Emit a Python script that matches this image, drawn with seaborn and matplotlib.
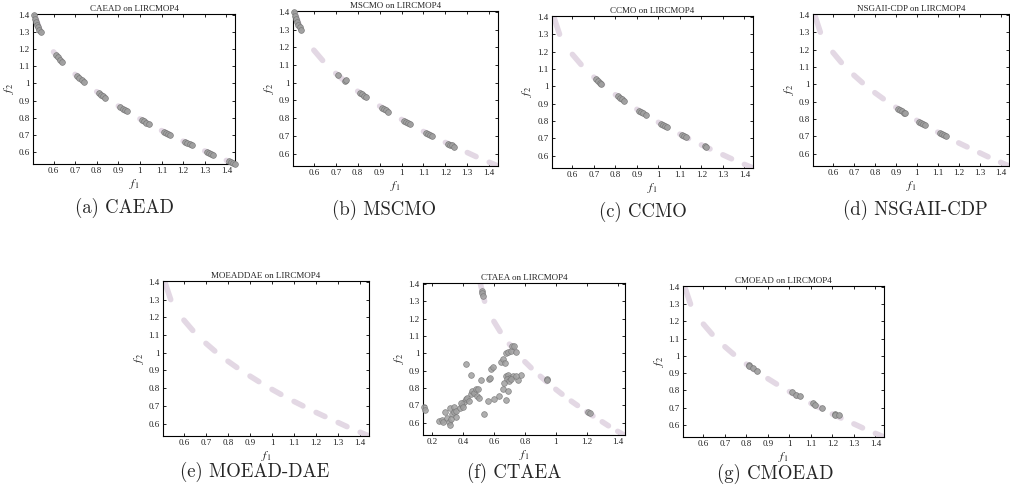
import matplotlib
matplotlib.use('Agg')
import numpy as np
import pandas as pd
import matplotlib.pyplot as plt
import seaborn as sns
from matplotlib.ticker import FormatStrFormatter, MultipleLocator

# true Pareto front of LIRCMOP4: ten short pieces (start / end of each piece)
pf_f1_start = [0.505, 0.60, 0.70, 0.80, 0.90, 1.00, 1.10, 1.20, 1.30, 1.40]
pf_f1_end = [0.54, 0.64, 0.74, 0.84, 0.94, 1.04, 1.14, 1.24, 1.34, 1.44]
pf_f2_start = [1.43, 1.184, 1.053, 0.952, 0.868, 0.793, 0.725, 0.663, 0.606, 0.551]
pf_f2_end = [1.30, 1.126, 1.010, 0.917, 0.837, 0.765, 0.700, 0.640, 0.583, 0.530]

# final populations
caead_f1 = [0.51, 0.515, 0.52, 0.525, 0.53, 0.535, 0.54,
            0.61, 0.62, 0.63, 0.64, 0.71, 0.72, 0.73, 0.74,
            0.81, 0.82, 0.83, 0.84, 0.91, 0.92, 0.93, 0.94,
            1.01, 1.02, 1.03, 1.04, 1.11, 1.12, 1.13, 1.14,
            1.21, 1.22, 1.23, 1.24, 1.31, 1.32, 1.33, 1.34,
            1.41, 1.42, 1.43, 1.44]
caead_f2 = [1.40, 1.378, 1.359, 1.342, 1.327, 1.313, 1.30,
            1.168, 1.154, 1.139, 1.126, 1.042, 1.031, 1.020, 1.010,
            0.943, 0.934, 0.926, 0.917, 0.860, 0.852, 0.844, 0.837,
            0.786, 0.779, 0.772, 0.765, 0.719, 0.713, 0.706, 0.700,
            0.657, 0.651, 0.646, 0.640, 0.600, 0.594, 0.589, 0.583,
            0.546, 0.541, 0.536, 0.530]

mscmo_f1 = [0.51, 0.515, 0.52, 0.525, 0.53, 0.535, 0.54,
            0.71, 0.74, 0.745,
            0.81, 0.82, 0.83, 0.84, 0.91, 0.92, 0.93, 0.94,
            1.01, 1.02, 1.03, 1.04, 1.11, 1.12, 1.13, 1.14,
            1.21, 1.22, 1.23, 1.24]
mscmo_f2 = [1.40, 1.378, 1.359, 1.342, 1.327, 1.313, 1.30,
            1.042, 1.012, 1.015,
            0.943, 0.934, 0.926, 0.917, 0.860, 0.852, 0.844, 0.837,
            0.786, 0.779, 0.772, 0.765, 0.719, 0.713, 0.706, 0.700,
            0.657, 0.651, 0.646, 0.640]

ccmo_f1 = [0.71, 0.72, 0.73, 0.735,
           0.81, 0.82, 0.83, 0.84, 0.91, 0.92, 0.93, 0.94,
           1.01, 1.02, 1.03, 1.04, 1.11, 1.12, 1.13, 1.215, 1.22]
ccmo_f2 = [1.042, 1.031, 1.020, 1.015,
           0.943, 0.934, 0.926, 0.917, 0.860, 0.852, 0.844, 0.837,
           0.786, 0.779, 0.772, 0.765, 0.719, 0.713, 0.706, 0.654, 0.651]

nsgaii_f1 = [0.91, 0.92, 0.93, 0.94, 0.945, 1.01, 1.02, 1.03, 1.04,
             1.11, 1.12, 1.13, 1.14]
nsgaii_f2 = [0.860, 0.852, 0.844, 0.837, 0.835, 0.786, 0.779, 0.772, 0.765,
             0.719, 0.713, 0.706, 0.700]

moeaddae_f1 = []
moeaddae_f2 = []

ctaea_f1 = [0.15, 0.156, 0.248, 0.265, 0.272, 0.282, 0.298, 0.308, 0.315,
            0.315, 0.341, 0.33, 0.341, 0.352, 0.324, 0.358, 0.38, 0.396,
            0.406, 0.417, 0.385, 0.402, 0.428, 0.439, 0.45, 0.461, 0.472,
            0.483, 0.497, 0.489, 0.504, 0.417, 0.45, 0.515, 0.533, 0.559,
            0.57, 0.573, 0.58, 0.595, 0.598, 0.63, 0.645, 0.656, 0.672,
            0.678, 0.693, 0.71, 0.717, 0.728, 0.743, 0.678, 0.693, 0.706,
            0.722, 0.685, 0.70, 0.71, 0.667, 0.656, 0.689, 0.678, 0.755,
            0.776, 0.743, 0.52, 0.525, 0.53, 0.94, 0.946, 1.21, 1.22]
ctaea_f2 = [0.694, 0.675, 0.611, 0.617, 0.602, 0.663, 0.625, 0.606, 0.587,
            0.688, 0.694, 0.65, 0.663, 0.631, 0.621, 0.669, 0.688, 0.70,
            0.72, 0.736, 0.713, 0.694, 0.745, 0.726, 0.764, 0.783, 0.774,
            0.793, 0.797, 0.755, 0.745, 0.936, 0.873, 0.846, 0.65, 0.726,
            0.85, 0.86, 0.911, 0.923, 0.74, 0.755, 0.952, 0.965, 0.946,
            1.003, 1.007, 1.012, 1.045, 1.041, 1.007, 0.869, 0.873, 0.86,
            0.869, 0.85, 0.84, 0.854, 0.831, 0.797, 0.783, 0.73, 0.846,
            0.873, 0.869, 1.36, 1.345, 1.33, 0.85, 0.845, 0.665, 0.655]

cmoead_f1 = [0.81, 0.812, 0.83, 0.85, 1.01, 1.03, 1.05, 1.11, 1.12, 1.15,
             1.21, 1.212, 1.23]
cmoead_f2 = [0.95, 0.94, 0.93, 0.915, 0.792, 0.775, 0.765, 0.725, 0.715,
             0.70, 0.665, 0.655, 0.655]

algos = ['CAEAD', 'MSCMO', 'CCMO', 'NSGAII-CDP', 'MOEADDAE', 'CTAEA', 'CMOEAD']
captions = ['(a) CAEAD', '(b) MSCMO', '(c) CCMO', '(d) NSGAII-CDP',
            '(e) MOEAD-DAE', '(f) CTAEA', '(g) CMOEAD']
pops = [(caead_f1, caead_f2), (mscmo_f1, mscmo_f2), (ccmo_f1, ccmo_f2),
        (nsgaii_f1, nsgaii_f2), (moeaddae_f1, moeaddae_f2),
        (ctaea_f1, ctaea_f2), (cmoead_f1, cmoead_f2)]

sns.set_style('ticks')
plt.rcParams['font.family'] = ['Liberation Serif', 'DejaVu Serif']
plt.rcParams['mathtext.fontset'] = 'stix'

W, H = 1010, 494
fig = plt.figure(figsize=(W / 100, H / 100), dpi=100)

# axes boxes in pixels: left, top, right, bottom
boxes = [(33, 14, 235, 164), (293, 11, 498, 166), (552, 16, 753, 168),
         (813, 14, 1009, 166), (163, 281, 369, 436), (423, 283, 625, 435),
         (683, 286, 884, 437)]
cap_pos = [(124, 208), (384, 210), (643, 212), (915, 210),
           (255, 472), (514, 473), (775, 474)]

pf_df = pd.DataFrame({
    'seg': list(range(len(pf_f1_start))) * 2,
    'f1': pf_f1_start + pf_f1_end,
    'f2': pf_f2_start + pf_f2_end,
})

PF_COLOR = '#e3d8e4'

for i, name in enumerate(algos):
    l, t, r, b = boxes[i]
    ax = fig.add_axes([l / W, 1 - b / H, (r - l) / W, (b - t) / H])
    sns.lineplot(data=pf_df, x='f1', y='f2', units='seg', estimator=None,
                 sort=False, color=PF_COLOR, lw=4.0, solid_capstyle='round',
                 ax=ax, legend=False, zorder=2)
    f1, f2 = pops[i]
    if len(f1):
        sns.scatterplot(x=f1, y=f2, ax=ax, s=17, color='#a0a0a0',
                        edgecolor='#787878', linewidth=0.5, zorder=3,
                        clip_on=False, alpha=0.95 if name != 'CTAEA' else 0.85)
    if name == 'CTAEA':
        ax.set_xlim(0.142, 1.447)
        ax.xaxis.set_major_locator(MultipleLocator(0.2))
    else:
        ax.set_xlim(0.505, 1.44)
        ax.xaxis.set_major_locator(MultipleLocator(0.1))
    ax.set_ylim(0.53, 1.405)
    ax.yaxis.set_major_locator(MultipleLocator(0.1))
    ax.xaxis.set_major_formatter(FormatStrFormatter('%g'))
    ax.yaxis.set_major_formatter(FormatStrFormatter('%g'))
    ax.tick_params(direction='in', top=True, right=True, length=2.5,
                   width=0.6, labelsize=6.5, pad=2.5, colors='black',
                   labelcolor='#222222')
    for sp in ax.spines.values():
        sp.set_visible(True)
        sp.set_linewidth(0.8)
        sp.set_color('black')
    ax.set_xlabel(r'$f_1$', fontsize=8.5, labelpad=1)
    ax.set_ylabel(r'$f_2$', fontsize=8.5, labelpad=2)
    ax.set_title(name + ' on LIRCMOP4', fontsize=6.5, pad=2)
    fig.text(cap_pos[i][0] / W, 1 - cap_pos[i][1] / H, captions[i],
             fontfamily='cmr10', fontsize=13.5, ha='center', va='center')

plt.savefig('out.png', dpi=100)
